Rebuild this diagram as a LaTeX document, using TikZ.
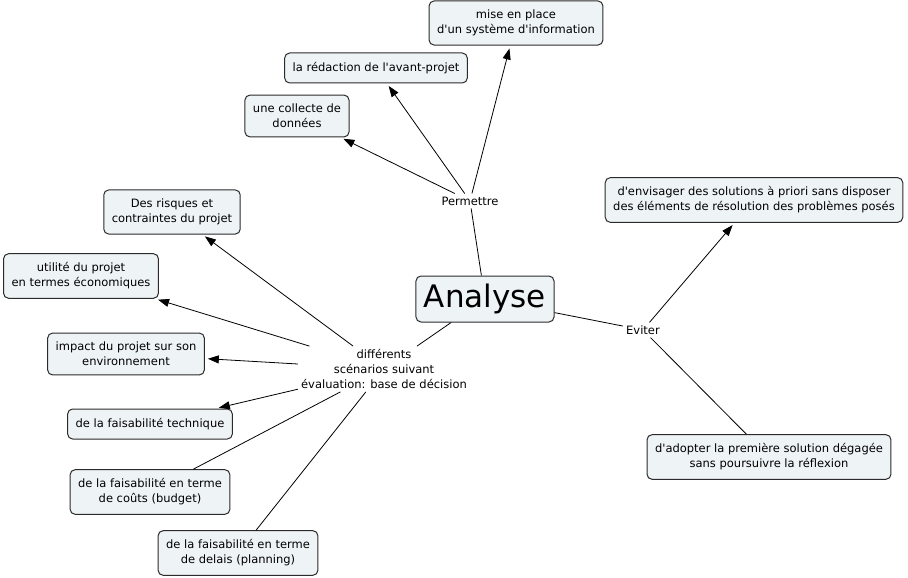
\documentclass[tikz,border=0pt]{standalone}
\usepackage{fontspec}
\setmainfont{DejaVu Sans}[Ligatures=TeXOff]
\usepackage{xcolor}
\usepackage{tikz}
\usetikzlibrary{arrows.meta}

\definecolor{conceptfill}{HTML}{EEF3F5}
\definecolor{conceptline}{HTML}{2B2B2B}

\begin{document}
\begin{tikzpicture}[
    x=1pt, y=-1pt,
    concept/.style={rectangle, draw=conceptline, fill=conceptfill, line width=1pt, rounded corners=5pt, inner xsep=8pt, inner ysep=9pt, minimum height=30pt, align=center, font=\fontsize{11.5}{15}\selectfont},
    linkword/.style={inner sep=3pt, align=center, font=\fontsize{11.5}{15}\selectfont},
    link/.style={draw, line width=0.8pt},
    arrow/.style={-{Triangle[length=11pt, width=8pt]}, shorten >=3pt}
]
\useasboundingbox (0,0) rectangle (908,578);

\node[concept] (systeme) at (516,23) {mise en place\\d'un système d'information};
\node[concept] (redaction) at (376,68) {la rédaction de l'avant-projet};
\node[concept] (collecte) at (297,116) {une collecte de\\données};
\node[linkword] (permettre) at (470,201) {Permettre};
\node[concept, font=\fontsize{31}{36}\selectfont, inner sep=8pt] (analyse) at (485,299) {Analyse};
\node[linkword] (eviter) at (643,330) {Eviter};
\node[concept] (envisager) at (754,200) {d'envisager des solutions à priori sans disposer\\des éléments de résolution des problèmes posés};
\node[concept] (adopter) at (769,457) {d'adopter la première solution dégagée\\sans poursuivre la réflexion};
\node[linkword] (scenarios) at (384,369) {différents\\scénarios suivant\\évaluation: base de décision};
\node[concept] (risques) at (172,212) {Des risques et\\contraintes du projet};
\node[concept] (utilite) at (81,276) {utilité du projet\\en termes économiques};
\node[concept] (impact) at (126,354) {impact du projet sur son\\environnement};
\node[concept] (technique) at (150,424) {de la faisabilité technique};
\node[concept] (couts) at (150,492) {de la faisabilité en terme\\de coûts (budget)};
\node[concept] (delais) at (238,553) {de la faisabilité en terme\\de delais (planning)};

\draw[link] (analyse) -- (permettre);
\draw[link, arrow] (permettre) -- (collecte);
\draw[link, arrow] (permettre) -- (redaction);
\draw[link, arrow] (permettre) -- (systeme);

\draw[link] (analyse) -- (eviter);
\draw[link, arrow] (eviter) -- (envisager);
\draw[link] (eviter) -- (adopter);

\draw[link] (analyse) -- (scenarios);
\draw[link, arrow] (scenarios) -- (risques);
\draw[link, arrow] (scenarios) -- (utilite);
\draw[link, arrow] (scenarios) -- (impact);
\draw[link, arrow] (scenarios) -- (technique);
\draw[link] (scenarios) -- (couts);
\draw[link] (scenarios) -- (delais);

\end{tikzpicture}
\end{document}
